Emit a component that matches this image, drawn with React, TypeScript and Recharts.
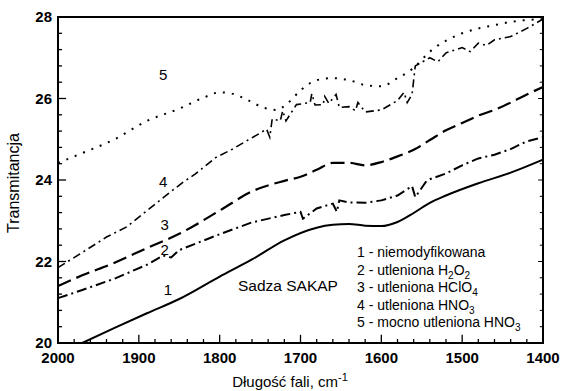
import React from "react";
import { LineChart, Line, XAxis, YAxis, ReferenceArea, ReferenceDot, ReferenceLine } from "recharts";

// wavenumber (cm-1) and transmittance, one pair of arrays per curve
const wn1 = [1970, 1930, 1890, 1850, 1800, 1760, 1720, 1680, 1660, 1640, 1620, 1600, 1580, 1560, 1540, 1520, 1480, 1440, 1400];
const t1 = [20.0, 20.37, 20.73, 21.08, 21.63, 22.05, 22.52, 22.83, 22.9, 22.92, 22.88, 22.87, 22.97, 23.19, 23.44, 23.62, 23.92, 24.18, 24.5];

const wn2 = [2000, 1970, 1930, 1890, 1870, 1860, 1850, 1800, 1760, 1720, 1700, 1697, 1680, 1660, 1655, 1652, 1640, 1620, 1600, 1580, 1562, 1558, 1545, 1540, 1520, 1500, 1480, 1460, 1440, 1420, 1400];
const t2 = [21.1, 21.3, 21.58, 21.92, 22.15, 22.1, 22.28, 22.67, 22.96, 23.14, 23.22, 23.05, 23.3, 23.42, 23.22, 23.5, 23.45, 23.44, 23.5, 23.62, 23.85, 23.58, 23.95, 24.02, 24.16, 24.36, 24.53, 24.62, 24.76, 24.95, 25.05];

const wn3 = [2000, 1970, 1930, 1890, 1850, 1800, 1760, 1720, 1700, 1680, 1660, 1640, 1620, 1600, 1580, 1560, 1540, 1520, 1500, 1480, 1460, 1440, 1420, 1400];
const t3 = [21.4, 21.66, 21.97, 22.33, 22.68, 23.25, 23.72, 23.98, 24.08, 24.25, 24.42, 24.42, 24.36, 24.44, 24.58, 24.74, 24.98, 25.22, 25.4, 25.58, 25.72, 25.9, 26.1, 26.28];

const wn4 = [2000, 1970, 1940, 1915, 1890, 1860, 1845, 1830, 1805, 1785, 1765, 1750, 1742, 1738, 1735, 1725, 1722, 1718, 1705, 1688, 1686, 1682, 1672, 1670, 1665, 1656, 1652, 1640, 1632, 1629, 1620, 1600, 1580, 1572, 1568, 1562, 1558, 1540, 1530, 1520, 1500, 1490, 1480, 1470, 1460, 1440, 1420, 1400];
const t4 = [21.85, 22.22, 22.6, 22.85, 23.25, 23.72, 23.95, 24.15, 24.55, 24.75, 24.98, 25.15, 25.25, 25.05, 25.5, 25.45, 25.7, 25.45, 25.85, 25.9, 26.12, 25.84, 25.85, 26.05, 25.88, 26.1, 25.78, 25.8, 25.7, 25.9, 25.67, 25.72, 25.95, 26.15, 25.9, 26.1, 26.8, 27.0, 26.9, 27.12, 27.25, 27.15, 27.36, 27.3, 27.44, 27.52, 27.72, 27.95];

const wn5 = [2000, 1970, 1930, 1890, 1850, 1820, 1800, 1785, 1765, 1745, 1730, 1715, 1700, 1680, 1660, 1640, 1620, 1600, 1580, 1560, 1540, 1520, 1500, 1480, 1460, 1440, 1400];
const t5 = [24.42, 24.66, 25.0, 25.45, 25.75, 26.02, 26.15, 26.12, 25.96, 25.77, 25.72, 25.9, 26.2, 26.45, 26.5, 26.45, 26.33, 26.3, 26.5, 26.75, 27.15, 27.42, 27.6, 27.72, 27.8, 27.88, 27.95];

const xTicks = [2000, 1980, 1960, 1940, 1920, 1900, 1880, 1860, 1840, 1820, 1800, 1780, 1760, 1740, 1720, 1700, 1680, 1660, 1640, 1620, 1600, 1580, 1560, 1540, 1520, 1500, 1480, 1460, 1440, 1420, 1400];
const yTicks = [20, 20.4, 20.8, 21.2, 21.6, 22, 22.4, 22.8, 23.2, 23.6, 24, 24.4, 24.8, 25.2, 25.6, 26, 26.4, 26.8, 27.2, 27.6, 28];

// curve number labels placed next to each curve
const curveLabels = [
  { n: "1", x: 1864, y: 21.3 },
  { n: "2", x: 1868, y: 22.28 },
  { n: "3", x: 1868, y: 22.9 },
  { n: "4", x: 1870, y: 23.95 },
  { n: "5", x: 1870, y: 26.58 },
];

const W = 561;
const H = 391;
const M = { top: 17, right: 18, bottom: 8, left: 8 };
const FONT = "'Liberation Sans', Arial, sans-serif";
// tick mark lengths in data units (~8px major, ~4px minor)
const X_MAJ = 0.2;
const X_MIN = 0.1;
const Y_MAJ = 10;
const Y_MIN = 5;

const pts = (xs: number[], ys: number[]) => xs.map((x, i) => ({ x, y: ys[i] }));
const isMajorX = (v: number) => v % 100 === 0;
const isMajorY = (v: number) => Math.abs(v / 2 - Math.round(v / 2)) < 1e-6;

function XTick(props: any) {
  const { x, y, payload } = props;
  const v = payload.value;
  if (!isMajorX(v)) return <g />;
  return (
    <text x={x} y={y + 20} textAnchor="middle" fontFamily={FONT} fontWeight="bold" fontSize={15} fill="#000">
      {v}
    </text>
  );
}

function YTick(props: any) {
  const { x, y, payload } = props;
  const v = payload.value;
  if (!isMajorY(v)) return <g />;
  return (
    <text x={x - 6} y={y + 5} textAnchor="end" fontFamily={FONT} fontWeight="bold" fontSize={15} fill="#000">
      {v}
    </text>
  );
}

const legendRows = [
  { lead: "1 - niemodyfikowana", parts: [] as [string, boolean][] },
  { lead: "2 - utleniona H", parts: [["2", true], ["O", false], ["2", true]] as [string, boolean][] },
  { lead: "3 - utleniona HClO", parts: [["4", true]] as [string, boolean][] },
  { lead: "4 - utleniona HNO", parts: [["3", true]] as [string, boolean][] },
  { lead: "5 - mocno utleniona HNO", parts: [["3", true]] as [string, boolean][] },
];

export default function App() {
  return (
    <div style={{ position: "absolute", left: 0, top: 0, background: "#fff" }}>
      <LineChart width={W} height={H} margin={M}>
        <ReferenceArea
          x1={2000}
          x2={1400}
          y1={20}
          y2={28}
          fill="transparent"
          fillOpacity={0}
          stroke="#000"
          strokeWidth={2}
          ifOverflow="visible"
        />
        <XAxis
          dataKey="x"
          type="number"
          domain={[1400, 2000]}
          reversed
          ticks={xTicks}
          interval={0}
          tickSize={0}
          tickMargin={0}
          axisLine={false}
          tickLine={false}
          tick={<XTick />}
          height={40}
          allowDuplicatedCategory={false}
        />
        <YAxis
          dataKey="y"
          type="number"
          domain={[20, 28]}
          ticks={yTicks}
          interval={0}
          tickSize={0}
          tickMargin={0}
          axisLine={false}
          tickLine={false}
          tick={<YTick />}
          width={50}
          allowDataOverflow
        />
        {xTicks.map((v) => (
          <ReferenceLine
            key={"xt" + v}
            segment={[{ x: v, y: 20 }, { x: v, y: 20 + (isMajorX(v) ? X_MAJ : X_MIN) }]}
            stroke="#000"
            strokeWidth={1.3}
            ifOverflow="visible"
          />
        ))}
        {yTicks.map((v) => (
          <ReferenceLine
            key={"yl" + v}
            segment={[{ x: 2000, y: v }, { x: 2000 - (isMajorY(v) ? Y_MAJ : Y_MIN), y: v }]}
            stroke="#000"
            strokeWidth={1.3}
            ifOverflow="visible"
          />
        ))}
        {yTicks.map((v) => (
          <ReferenceLine
            key={"yr" + v}
            segment={[{ x: 1400, y: v }, { x: 1400 + (isMajorY(v) ? 6 : 4), y: v }]}
            stroke="#000"
            strokeWidth={1}
            ifOverflow="visible"
          />
        ))}
        <Line data={pts(wn1, t1)} dataKey="y" type="monotone" stroke="#000" strokeWidth={2} dot={false} isAnimationActive={false} />
        <Line data={pts(wn2, t2)} dataKey="y" type="linear" stroke="#000" strokeWidth={2} strokeDasharray="10 4 2 4" dot={false} isAnimationActive={false} />
        <Line data={pts(wn3, t3)} dataKey="y" type="monotone" stroke="#000" strokeWidth={2.2} strokeDasharray="14 6" dot={false} isAnimationActive={false} />
        <Line data={pts(wn4, t4)} dataKey="y" type="linear" stroke="#000" strokeWidth={1.6} strokeDasharray="8 4 2 4" dot={false} isAnimationActive={false} />
        <Line data={pts(wn5, t5)} dataKey="y" type="monotone" stroke="#000" strokeWidth={2} strokeDasharray="2 7" dot={false} isAnimationActive={false} />
        {curveLabels.map((c) => (
          <ReferenceDot
            key={c.n}
            x={c.x}
            y={c.y}
            r={0}
            fill="none"
            stroke="none"
            label={{ value: c.n, position: "center", fontSize: 15, fill: "#000", fontFamily: FONT }}
          />
        ))}
        <text x={238} y={291} fontFamily={FONT} fontSize={15.5} fill="#000">
          Sadza SAKAP
        </text>
        {legendRows.map((r, i) => (
          <text key={i} x={357} y={257 + i * 17.6} fontFamily={FONT} fontSize={14} fill="#000">
            {r.lead}
            {r.parts.map(([s, sub], j) => (
              <tspan key={j} dy={sub ? 4 : -4} fontSize={sub ? 10 : 14}>
                {s}
              </tspan>
            ))}
          </text>
        ))}
        <text x={290} y={387} textAnchor="middle" fontFamily={FONT} fontSize={15} fill="#000">
          Długość fali, cm
          <tspan dy={-6} fontSize={11}>
            -1
          </tspan>
        </text>
        <text x={19} y={183} transform="rotate(-90 19 183)" textAnchor="middle" fontFamily={FONT} fontSize={16} fill="#000">
          Transmitancja
        </text>
      </LineChart>
    </div>
  );
}
